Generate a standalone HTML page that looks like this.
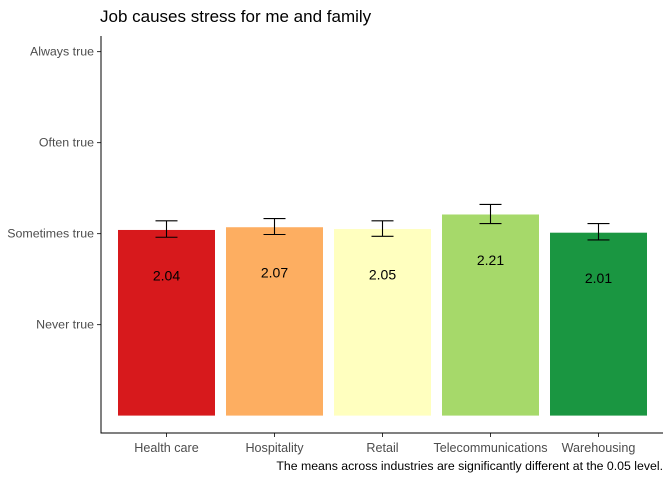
<!DOCTYPE html>
<html><head><meta charset="utf-8"><style>
body{margin:0;background:#fff;font-family:"Liberation Sans",sans-serif}
</style></head><body>
<svg id="chart" width="672" height="480" xmlns="http://www.w3.org/2000/svg" font-family="Liberation Sans, sans-serif"></svg>
<script>
const categories=["Health care","Hospitality","Retail","Telecommunications","Warehousing"];
const means=[2.04,2.07,2.05,2.21,2.01];
const lower=[1.96,1.99,1.97,2.11,1.93];
const upper=[2.14,2.165,2.14,2.32,2.11];
const colors=["#d7191c","#fdae61","#ffffbf","#a6d96a","#1a9641"];
const yTicks=[1,2,3,4];
const yTickLabels=["Never true","Sometimes true","Often true","Always true"];
const svg=document.getElementById('chart');
const NS="http://www.w3.org/2000/svg";
const y=v=>415.6-91*v;
const x0=112.5,band=108;
const xc=i=>x0+band*i+band/2;
function mk(t,a,txt){const e=document.createElementNS(NS,t);for(const k in a)e.setAttribute(k,a[k]);if(txt!==undefined)e.textContent=txt;svg.appendChild(e);return e;}
let e=mk('text',{x:100,y:22,'font-size':17,fill:'#000'},"Job causes stress for me and family");


yTicks.forEach((v,i)=>{
 let t=mk('line',{x1:97,x2:101,y1:y(v),y2:y(v),stroke:'#333'});
 
 
 let l=mk('text',{x:94,y:y(v)+4,'font-size':12.4,fill:'#4d4d4d','text-anchor':'end'},yTickLabels[i]);
 
 
});
categories.forEach((c,i)=>{
 let b=mk('rect',{x:xc(i)-48.5,y:y(means[i]),width:97,height:y(0)-y(means[i]),fill:colors[i]});
 
 
 let g=mk('path',{d:`M${xc(i)-11},${y(upper[i])}H${xc(i)+11}M${xc(i)},${y(upper[i])}V${y(lower[i])}M${xc(i)-11},${y(lower[i])}H${xc(i)+11}`,stroke:'#000',fill:'none','stroke-width':1.1});
 
 
 let t=mk('text',{x:xc(i),y:y(means[i]-0.5)+5,'font-size':14,'text-anchor':'middle',fill:'#000'},means[i].toFixed(2));
 
 
 let k=mk('line',{x1:xc(i),x2:xc(i),y1:433,y2:437,stroke:'#333'});
 
 
 let l=mk('text',{x:xc(i),y:452,'font-size':12.6,fill:'#4d4d4d','text-anchor':'middle'},c);
 
 
});
let ax=mk('path',{d:'M101,36V433H663',stroke:'#000',fill:'none','stroke-width':1});


let cap=mk('text',{x:663,y:470,'font-size':12.3,'text-anchor':'end',fill:'#000'},"The means across industries are significantly different at the 0.05 level.");


</script>
</body></html>
